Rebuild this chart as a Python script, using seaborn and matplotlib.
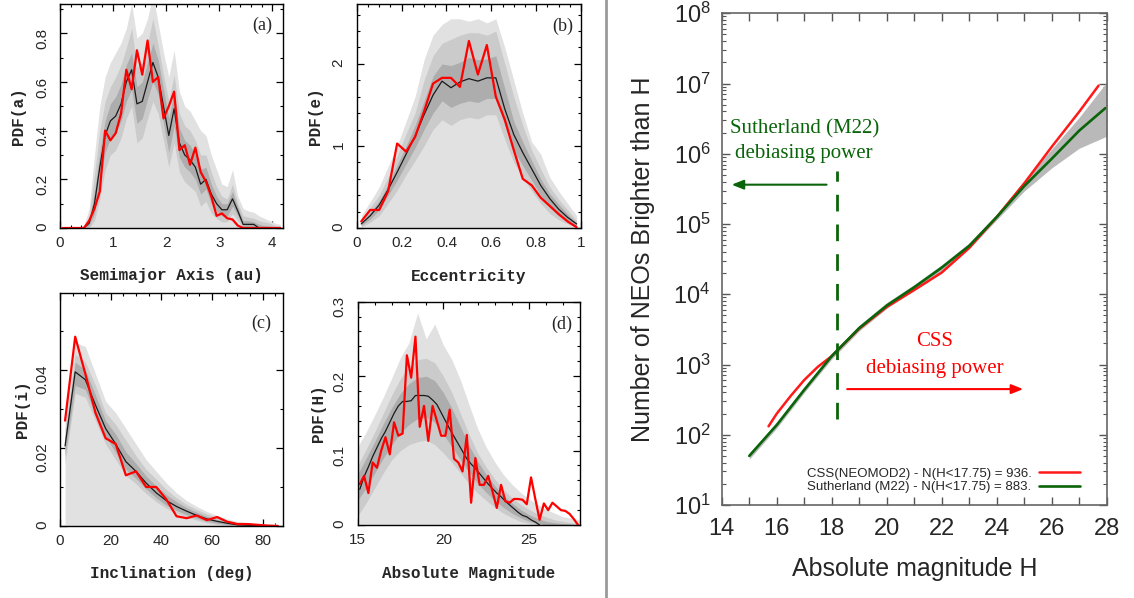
import matplotlib
matplotlib.use('Agg')
import matplotlib.pyplot as plt
from matplotlib.lines import Line2D
from matplotlib.ticker import MultipleLocator, FuncFormatter, LogLocator, NullFormatter
import numpy as np
import seaborn as sns

# ---------------- data ----------------
# (a) semimajor axis, bins of 0.1 au
a_x = np.round(np.arange(0.05, 4.2, 0.1), 3)
a_red = [0, 0, 0, 0, 0, 0.03, 0.08, 0.15, 0.40, 0.36, 0.39, 0.47, 0.65, 0.57, 0.73,
         0.63, 0.77, 0.60, 0.62, 0.45, 0.50, 0.56, 0.32, 0.34, 0.26, 0.33, 0.23, 0.19,
         0.13, 0.05, 0.06, 0.04, 0.035, 0.01, 0, 0, 0, 0, 0, 0, 0, 0]
a_med = [0, 0, 0, 0, 0, 0.02, 0.10, 0.25, 0.38, 0.44, 0.46, 0.51, 0.60, 0.65, 0.51,
         0.52, 0.60, 0.68, 0.62, 0.50, 0.38, 0.49, 0.35, 0.30, 0.28, 0.25, 0.18, 0.20,
         0.14, 0.10, 0.075, 0.075, 0.12, 0.07, 0.015, 0.015, 0.015, 0, 0, 0, 0, 0]
a_hi3 = [0, 0, 0, 0, 0.01, 0.08, 0.30, 0.50, 0.62, 0.68, 0.72, 0.76, 0.82, 0.92, 0.78,
         0.80, 0.86, 0.96, 0.84, 0.72, 0.62, 0.73, 0.56, 0.50, 0.48, 0.44, 0.40, 0.38,
         0.30, 0.24, 0.18, 0.17, 0.24, 0.13, 0.08, 0.07, 0.065, 0.05, 0.04, 0.03, 0.02, 0.015]
a_hi2 = [0, 0, 0, 0, 0.005, 0.05, 0.22, 0.40, 0.52, 0.58, 0.62, 0.67, 0.74, 0.82, 0.66,
         0.68, 0.76, 0.86, 0.75, 0.63, 0.52, 0.63, 0.47, 0.42, 0.40, 0.36, 0.30, 0.30,
         0.23, 0.17, 0.13, 0.12, 0.18, 0.10, 0.05, 0.045, 0.04, 0.03, 0.025, 0.02, 0.01, 0.008]
a_hi1 = [0, 0, 0, 0, 0, 0.03, 0.15, 0.31, 0.44, 0.51, 0.54, 0.59, 0.67, 0.72, 0.58,
         0.60, 0.68, 0.76, 0.69, 0.57, 0.45, 0.56, 0.41, 0.36, 0.34, 0.30, 0.24, 0.25,
         0.18, 0.13, 0.10, 0.10, 0.15, 0.085, 0.03, 0.03, 0.025, 0.015, 0.01, 0.008, 0.005, 0.003]
a_lo1 = [0, 0, 0, 0, 0, 0.01, 0.06, 0.19, 0.31, 0.37, 0.39, 0.44, 0.52, 0.57, 0.43,
         0.45, 0.53, 0.60, 0.55, 0.43, 0.31, 0.42, 0.29, 0.25, 0.23, 0.20, 0.14, 0.16,
         0.10, 0.07, 0.05, 0.05, 0.09, 0.05, 0.005, 0.005, 0.005, 0, 0, 0, 0, 0]
a_lo2 = [0, 0, 0, 0, 0, 0, 0.03, 0.12, 0.24, 0.30, 0.32, 0.37, 0.45, 0.50, 0.35,
         0.37, 0.45, 0.52, 0.47, 0.36, 0.25, 0.35, 0.23, 0.19, 0.17, 0.15, 0.09, 0.11,
         0.06, 0.04, 0.025, 0.025, 0.06, 0.03, 0, 0, 0, 0, 0, 0, 0, 0]

# (b) eccentricity, bins of 0.04
b_x = [0.02, 0.06, 0.10, 0.14, 0.18, 0.22, 0.26, 0.30, 0.34, 0.38, 0.42, 0.46, 0.50,
       0.54, 0.58, 0.62, 0.66, 0.70, 0.74, 0.78, 0.82, 0.86, 0.90, 0.94, 0.98]
b_red = [0.08, 0.22, 0.22, 0.45, 1.03, 0.93, 1.11, 1.42, 1.76, 1.83, 1.83, 1.72, 2.28,
         1.87, 2.23, 1.60, 1.32, 0.95, 0.60, 0.52, 0.37, 0.27, 0.17, 0.08, 0.01]
b_med = [0.05, 0.15, 0.28, 0.47, 0.68, 0.90, 1.12, 1.38, 1.62, 1.79, 1.71, 1.78, 1.82,
         1.79, 1.83, 1.83, 1.45, 1.14, 0.92, 0.72, 0.52, 0.36, 0.23, 0.13, 0.05]
b_hi3 = [0.15, 0.32, 0.50, 0.75, 1.00, 1.30, 1.60, 2.05, 2.35, 2.48, 2.55, 2.55, 2.52,
         2.55, 2.50, 2.55, 2.20, 1.80, 1.40, 1.05, 0.90, 0.62, 0.45, 0.30, 0.15]
b_hi2 = [0.10, 0.25, 0.40, 0.62, 0.88, 1.15, 1.40, 1.80, 2.10, 2.25, 2.30, 2.35, 2.38,
         2.38, 2.35, 2.40, 2.00, 1.60, 1.25, 0.95, 0.72, 0.50, 0.35, 0.22, 0.09]
b_hi1 = [0.07, 0.19, 0.33, 0.53, 0.77, 1.00, 1.25, 1.55, 1.85, 2.00, 1.98, 2.02, 2.08,
         2.05, 2.06, 2.10, 1.70, 1.30, 1.05, 0.82, 0.60, 0.42, 0.29, 0.17, 0.06]
b_lo1 = [0.03, 0.11, 0.22, 0.40, 0.58, 0.78, 0.98, 1.20, 1.40, 1.55, 1.47, 1.52, 1.55,
         1.53, 1.58, 1.58, 1.25, 0.95, 0.76, 0.58, 0.40, 0.25, 0.15, 0.08, 0.02]
b_lo2 = [0.01, 0.07, 0.15, 0.30, 0.46, 0.65, 0.82, 1.00, 1.20, 1.32, 1.25, 1.32, 1.35,
         1.33, 1.38, 1.38, 1.08, 0.80, 0.62, 0.45, 0.30, 0.18, 0.10, 0.05, 0.01]

# (c) inclination, bins of 4 deg
c_x = [2, 6, 10, 14, 18, 22, 26, 30, 34, 38, 42, 46, 50, 54, 58, 62, 66, 70, 74, 78, 82, 86]
c_red = [0.027, 0.0485, 0.039, 0.029, 0.0225, 0.021, 0.013, 0.014, 0.010, 0.010, 0.0068,
         0.0025, 0.002, 0.0027, 0.0015, 0.0023, 0.0011, 0.0005, 0.0005, 0.0003, 0.0001, 0.0]
c_med = [0.0205, 0.0395, 0.0375, 0.031, 0.025, 0.021, 0.0165, 0.014, 0.011, 0.0085, 0.0065,
         0.005, 0.0038, 0.0027, 0.0018, 0.0012, 0.0007, 0.0003, 0.0002, 0.0001, 0.0001, 0.0]
c_hi3 = [0.028, 0.047, 0.046, 0.039, 0.032, 0.029, 0.025, 0.021, 0.017, 0.014, 0.011,
         0.0085, 0.0065, 0.005, 0.0037, 0.0027, 0.0018, 0.0012, 0.0008, 0.0006, 0.0005, 0.0005]
c_hi2 = [0.025, 0.044, 0.042, 0.036, 0.029, 0.026, 0.022, 0.018, 0.0145, 0.012, 0.0093,
         0.0072, 0.0055, 0.0042, 0.0031, 0.0022, 0.0014, 0.0009, 0.0006, 0.0004, 0.0003, 0.0003]
c_hi1 = [0.023, 0.042, 0.040, 0.0335, 0.027, 0.0235, 0.019, 0.016, 0.0128, 0.0102, 0.008,
         0.0062, 0.0047, 0.0035, 0.0025, 0.0017, 0.0011, 0.0006, 0.0004, 0.0003, 0.0002, 0.0002]
c_lo1 = [0.018, 0.036, 0.035, 0.0285, 0.023, 0.0188, 0.0145, 0.0122, 0.0095, 0.0072, 0.0053,
         0.004, 0.0029, 0.002, 0.0012, 0.0007, 0.0004, 0.0001, 0, 0, 0, 0]
c_lo2 = [0.016, 0.034, 0.033, 0.027, 0.021, 0.017, 0.013, 0.0108, 0.0083, 0.0062, 0.0045,
         0.0033, 0.0023, 0.0015, 0.0008, 0.0004, 0.0001, 0, 0, 0, 0, 0]

# (d) absolute magnitude, bins of 0.25 mag
d_x = np.round(np.arange(15.125, 28.0, 0.25), 3)
d_red = [0.055, 0.066, 0.043, 0.084, 0.077, 0.100, 0.118, 0.095, 0.138, 0.120, 0.123,
         0.228, 0.198, 0.253, 0.132, 0.160, 0.113, 0.160, 0.140, 0.120, 0.120, 0.155,
         0.089, 0.084, 0.072, 0.121, 0.030, 0.090, 0.054, 0.054, 0.066, 0.045, 0.023,
         0.054, 0.032, 0.030, 0.035, 0.035, 0.034, 0.028, 0.064, 0.035, 0.007, 0.029,
         0.020, 0.030, 0.025, 0.020, 0.019, 0.015, 0.008, 0.000]
d_med = [0.048, 0.065, 0.078, 0.092, 0.104, 0.116, 0.126, 0.138, 0.150, 0.160,
         0.166, 0.166, 0.167, 0.174, 0.174, 0.174, 0.173, 0.168, 0.162, 0.151,
         0.140, 0.129, 0.119, 0.109, 0.099, 0.089, 0.082, 0.076, 0.069, 0.062,
         0.055, 0.049, 0.043, 0.038, 0.032, 0.027, 0.022, 0.017, 0.013, 0.011,
         0.007, 0.004, 0.0]
d_band_x = [15, 15.5, 16, 16.5, 17, 17.5, 18, 18.5, 19, 19.5, 20, 20.5, 21, 21.5, 22,
            22.5, 23, 23.5, 24, 24.5, 25, 25.5, 26, 26.5, 27, 27.5, 28]
d_hi3 = [0.105, 0.125, 0.148, 0.172, 0.198, 0.225, 0.245, 0.285, 0.250, 0.270, 0.242,
         0.222, 0.195, 0.162, 0.130, 0.105, 0.085, 0.068, 0.055, 0.044, 0.035, 0.028,
         0.021, 0.016, 0.011, 0.009, 0.007]
d_hi2 = [0.080, 0.102, 0.125, 0.150, 0.175, 0.197, 0.213, 0.222, 0.224, 0.218, 0.200,
         0.178, 0.150, 0.122, 0.097, 0.078, 0.062, 0.048, 0.037, 0.028, 0.021, 0.015,
         0.011, 0.007, 0.005, 0.003, 0.002]
d_hi1 = [0.068, 0.090, 0.112, 0.136, 0.158, 0.177, 0.190, 0.198, 0.200, 0.194, 0.178,
         0.157, 0.132, 0.107, 0.086, 0.068, 0.053, 0.040, 0.030, 0.021, 0.014, 0.009,
         0.005, 0.003, 0.002, 0.001, 0.0]
d_lo1 = [0.033, 0.050, 0.070, 0.090, 0.108, 0.124, 0.135, 0.143, 0.145, 0.138, 0.122,
         0.105, 0.088, 0.071, 0.056, 0.044, 0.033, 0.024, 0.016, 0.010, 0.005, 0.002,
         0, 0, 0, 0, 0]
d_lo2 = [0.012, 0.030, 0.050, 0.070, 0.088, 0.100, 0.108, 0.112, 0.114, 0.108, 0.097,
         0.084, 0.070, 0.056, 0.043, 0.033, 0.024, 0.016, 0.010, 0.005, 0.002, 0,
         0, 0, 0, 0, 0]

# right panel: cumulative number of NEOs brighter than H
green_H = [15, 16, 17, 18, 19, 20, 21, 22, 23, 24, 25, 26, 27, 27.95]
green_N = [50, 138, 437, 1320, 3310, 6920, 12600, 24000, 49000, 126000, 347000,
           851000, 2140000, 4470000]
red_H = [15.7, 16, 16.5, 17, 17.5, 18, 19, 20, 21, 22, 23, 24, 25, 26, 27, 27.7]
red_N = [132, 200, 355, 603, 933, 1320, 3240, 6610, 11500, 20400, 45700, 126000,
         380000, 1260000, 3980000, 9330000]
band_H = [15, 16, 17, 18, 19, 20, 21, 22, 23, 24, 25, 26, 27, 28]
band_lo = [45, 125, 400, 1200, 3020, 6300, 11500, 22000, 45000, 115000, 295000,
           630000, 1200000, 1780000]
band_hi = [55, 152, 480, 1450, 3630, 7600, 13800, 26300, 54000, 138000, 417000,
           1170000, 3310000, 10500000]
cut_H = 18.2
legend_labels = ['CSS(NEOMOD2) - N(H<17.75) = 936.', 'Sutherland (M22) - N(H<17.75) = 883.']

# ---------------- style ----------------
sns.set_style('ticks')
plt.rcParams['font.family'] = ['Liberation Sans', 'DejaVu Sans']
MONO = 'Liberation Mono'
LIGHT, MID, DARK = '#e1e1e1', '#cbcbcb', '#adadad'
RED = '#ff0000'
GREEN = '#0a640a'

fig = plt.figure(figsize=(11.34, 5.98), dpi=100)


def pdf_panel(rect, x, med, red, bx, hi3, hi2, hi1, lo1, lo2, xlim, ylim,
              xmaj, xmin, ymaj, ymin, xlabel, ylabel, tag, xlab_pos, ylab_pos, tag_pos):
    ax = fig.add_axes(rect)
    ax.fill_between(bx, 0, hi3, color=LIGHT, lw=0)
    ax.fill_between(bx, lo2, hi2, color=MID, lw=0)
    ax.fill_between(bx, lo1, hi1, color=DARK, lw=0)
    sns.lineplot(x=x[:len(med)], y=med, ax=ax, color='#1a1a1a', lw=0.9,
                 estimator=None, sort=False)
    sns.lineplot(x=x, y=red, ax=ax, color=RED, lw=1.6, estimator=None, sort=False)
    ax.set_xlim(*xlim)
    ax.set_ylim(*ylim)
    ax.xaxis.set_major_locator(MultipleLocator(xmaj))
    ax.xaxis.set_minor_locator(MultipleLocator(xmin))
    ax.yaxis.set_major_locator(MultipleLocator(ymaj))
    ax.yaxis.set_minor_locator(MultipleLocator(ymin))
    fmt = FuncFormatter(lambda v, p: f'{v:g}')
    ax.xaxis.set_major_formatter(fmt)
    ax.yaxis.set_major_formatter(fmt)
    ax.tick_params(which='both', direction='in', top=True, right=True, color='black')
    ax.tick_params(which='major', length=5, width=0.9, labelsize=11, pad=6)
    ax.tick_params(which='minor', length=2.5, width=0.8)
    ax.tick_params(axis='y', labelrotation=90, pad=8)
    for s in ax.spines.values():
        s.set_color('black')
        s.set_linewidth(1.0)
    ax.set_xlabel(xlabel, family=MONO, fontsize=11.5, weight='bold', va='center')
    ax.set_ylabel(ylabel, family=MONO, fontsize=11.5, weight='bold', va='center')
    ax.xaxis.set_label_coords(0.5, xlab_pos)
    ax.yaxis.set_label_coords(ylab_pos, 0.5)
    ax.text(tag_pos[0], tag_pos[1], tag, transform=ax.transAxes, family='Liberation Serif',
            fontsize=13, ha='center', va='center')
    return ax


pdf_panel([0.0529, 0.6187, 0.1966, 0.3746], a_x, a_med, a_red, a_x,
          a_hi3, a_hi2, a_hi1, a_lo1, a_lo2, (0, 4.2), (0, 0.92),
          1, 0.2, 0.2, 0.1, 'Semimajor Axis (au)', 'PDF(a)', '(a)',
          -0.21, -0.188, (0.906, 0.906))
pdf_panel([0.3146, 0.6187, 0.1978, 0.3746], b_x, b_med, b_red, b_x,
          b_hi3, b_hi2, b_hi1, b_lo1, b_lo2, (0, 1), (0, 2.73),
          0.2, 0.05, 1, 0.2, 'Eccentricity', 'PDF(e)', '(b)',
          -0.217, -0.186, (0.918, 0.90))
pdf_panel([0.0529, 0.1204, 0.1966, 0.3896], c_x, c_med, c_red, c_x,
          c_hi3, c_hi2, c_hi1, c_lo1, c_lo2, (0, 88), (0, 0.0597),
          20, 5, 0.02, 0.01, 'Inclination (deg)', 'PDF(i)', '(c)',
          -0.203, -0.17, (0.904, 0.87))
pdf_panel([0.3154, 0.1220, 0.1963, 0.3735], d_x, d_med, d_red, d_band_x,
          d_hi3, d_hi2, d_hi1, d_lo1, d_lo2, (15, 28), (0, 0.3),
          5, 1, 0.1, 0.02, 'Absolute Magnitude', 'PDF(H)', '(d)',
          -0.216, -0.177, (0.918, 0.90))

# divider between the two figures
fig.add_artist(Line2D([0.5344, 0.5344], [0, 1], transform=fig.transFigure,
                      color='#9a9a9a', lw=2))

# ---------------- right panel ----------------
axR = fig.add_axes([0.6365, 0.1555, 0.3395, 0.8223])
axR.fill_between(band_H, band_lo, band_hi, color='#b9b9b9', lw=0)
sns.lineplot(x=red_H, y=red_N, ax=axR, color='#ff1a1a', lw=1.8, estimator=None, sort=False)
sns.lineplot(x=green_H, y=green_N, ax=axR, color=GREEN, lw=1.9, estimator=None, sort=False)
axR.set_yscale('log')
axR.set_xlim(14, 28)
axR.set_ylim(10, 1e8)
axR.xaxis.set_major_locator(MultipleLocator(2))
axR.xaxis.set_minor_locator(MultipleLocator(1))
axR.yaxis.set_major_locator(LogLocator(base=10, numticks=20))
axR.yaxis.set_minor_locator(LogLocator(base=10, subs=np.arange(2, 10), numticks=20))
axR.yaxis.set_minor_formatter(NullFormatter())
axR.yaxis.set_major_formatter(FuncFormatter(
    lambda v, p: r'$\mathregular{10^{%d}}$' % round(np.log10(v))))
axR.tick_params(which='both', direction='in', top=True, right=True, color='#555555')
axR.tick_params(which='major', length=6, width=1.0, labelsize=17)
axR.tick_params(axis='x', which='minor', length=6, width=1.0)
axR.tick_params(axis='y', which='minor', length=3, width=0.8)
axR.tick_params(axis='x', pad=9)
axR.tick_params(axis='y', pad=8)
for s in axR.spines.values():
    s.set_color('#666666')
    s.set_linewidth(1.2)
axR.set_xlabel('Absolute magnitude H', fontsize=18, va='center')
axR.set_ylabel('Number of NEOs Brighter than H', fontsize=18, va='center')
axR.xaxis.set_label_coords(0.5, -0.13)
axR.yaxis.set_label_coords(-0.204, 0.5)

axR.vlines(cut_H, 10 ** 2.22, 10 ** 5.75, colors=GREEN, lw=2,
           linestyles=[(0, (6, 4.7))])
axR.annotate('', xy=(14.36, 10 ** 5.56), xytext=(17.81, 10 ** 5.56),
             arrowprops=dict(arrowstyle='-|>,head_length=0.7,head_width=0.28',
                             color=GREEN, lw=1.5, shrinkA=0, shrinkB=0))
axR.annotate('', xy=(24.96, 10 ** 2.65), xytext=(18.56, 10 ** 2.65),
             arrowprops=dict(arrowstyle='-|>,head_length=0.7,head_width=0.28',
                             color=RED, lw=1.5, shrinkA=0, shrinkB=0))
axR.text(17.0, 10 ** 6.36, 'Sutherland (M22)', color=GREEN, family='Liberation Serif',
         fontsize=15, ha='center', va='center')
axR.text(17.0, 10 ** 6.0, 'debiasing power', color=GREEN, family='Liberation Serif',
         fontsize=15, ha='center', va='center')
axR.text(21.75, 10 ** 3.33, 'CSS', color=RED, family='Liberation Serif',
         fontsize=15, ha='center', va='center')
axR.text(21.75, 10 ** 2.95, 'debiasing power', color=RED, family='Liberation Serif',
         fontsize=15, ha='center', va='center')

handles = [Line2D([], [], color='#ff1a1a', lw=1.8), Line2D([], [], color=GREEN, lw=1.9)]
axR.legend(handles, legend_labels, loc='lower right', bbox_to_anchor=(0.955, 0.005),
           frameon=False, markerfirst=False, fontsize=9.5, handlelength=3.1,
           handletextpad=0.6, labelspacing=0.1, borderpad=0.2)

fig.savefig('out.png', dpi=100)
